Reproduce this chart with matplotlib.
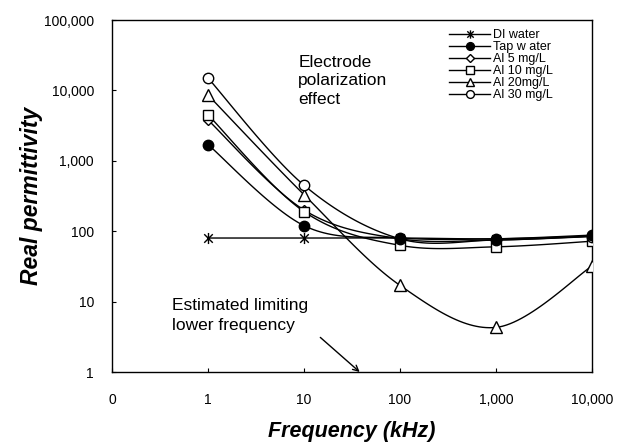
import matplotlib
matplotlib.use("Agg")
import matplotlib.pyplot as plt
import numpy as np
from matplotlib.path import Path

plt.rcParams["font.family"] = ["Liberation Sans", "DejaVu Sans"]

# categorical frequency axis (kHz)
tick_labels = ["0", "1", "10", "100", "1,000", "10,000"]
freq_pos = [1, 2, 3, 4, 5]

di_water = [80, 80, 80, 78, 85]
tap_water = [1700, 120, 80, 78, 88]
al_5 = [3800, 200, 78, 75, 85]
al_10 = [4500, 190, 63, 60, 72]
al_20 = [8600, 330, 17, 4.3, 32]
al_30 = [15000, 450, 78, 75, 84]

y_ticks = [1, 10, 100, 1000, 10000, 100000]


def smooth(xs, ys, n=30):
    """Catmull-Rom curve through the points (log y), like Excel smoothed lines"""
    x = np.asarray(xs, float)
    y = np.log10(np.asarray(ys, float))
    px = np.concatenate([[x[0]], x, [x[-1]]])
    py = np.concatenate([[y[0]], y, [y[-1]]])
    out_x, out_y = [], []
    t = np.linspace(0, 1, n)
    for i in range(1, len(px) - 2):
        p0, p1, p2, p3 = (np.array([px[k], py[k]]) for k in (i - 1, i, i + 1, i + 2))
        b1 = p1 + (p2 - p0) / 6
        b2 = p2 - (p3 - p1) / 6
        pts = (
            ((1 - t) ** 3)[:, None] * p1
            + (3 * (1 - t) ** 2 * t)[:, None] * b1
            + (3 * (1 - t) * t ** 2)[:, None] * b2
            + (t ** 3)[:, None] * p2
        )
        out_x.extend(pts[:, 0])
        out_y.extend(pts[:, 1])
    return np.array(out_x), 10 ** np.array(out_y)


# Excel-style star: an x with a vertical stroke
star = Path(
    [(-1, -1), (1, 1), (-1, 1), (1, -1), (0, -1.3), (0, 1.3)],
    [Path.MOVETO, Path.LINETO, Path.MOVETO, Path.LINETO, Path.MOVETO, Path.LINETO],
)

# label, values, marker, face, size, marker layer
series = [
    ("DI water", di_water, star, "k", 8, 5),
    ("Tap w ater", tap_water, "o", "k", 7.5, 6),
    ("Al 5 mg/L", al_5, "D", "white", 5.5, 3),
    ("Al 10 mg/L", al_10, "s", "white", 7, 3),
    ("Al 20mg/L", al_20, "^", "white", 8.5, 3),
    ("Al 30 mg/L", al_30, "o", "white", 7.5, 3),
]

fig = plt.figure(figsize=(6.3, 4.45), dpi=100)
ax = fig.add_axes([112 / 630, 73 / 445, 480 / 630, 352 / 445])

handles = []
for label, vals, marker, face, size, layer in series:
    sx, sy = smooth(freq_pos, vals)
    ax.plot(sx, sy, color="black", lw=1.0, zorder=2)
    ax.plot(
        freq_pos, vals, linestyle="none", marker=marker, markersize=size,
        markerfacecolor=face, markeredgecolor="black", markeredgewidth=1.0, zorder=layer,
    )
    (h,) = ax.plot(
        [], [], color="black", lw=1.0, marker=marker, markersize=size * 0.75,
        markerfacecolor=face, markeredgecolor="black", label=label,
    )
    handles.append(h)

ax.set_yscale("log")
ax.set_ylim(1, 100000)
ax.set_xlim(0, 5)
ax.set_yticks(y_ticks)
ax.set_yticklabels([f"{v:,}" for v in y_ticks])
ax.yaxis.set_minor_locator(matplotlib.ticker.NullLocator())
ax.set_xticks(range(len(tick_labels)))
ax.set_xticklabels(tick_labels)
ax.tick_params(axis="both", direction="in", length=3, labelsize=10, pad=13)
ax.tick_params(axis="x", pad=15)
for s in ax.spines.values():
    s.set_linewidth(1.0)

ax.set_xlabel("Frequency (kHz)", fontsize=15.5, fontweight="bold", fontstyle="italic", labelpad=10)
ax.set_ylabel("Real permittivity", fontsize=16.5, fontweight="bold", fontstyle="italic")
ax.yaxis.set_label_coords(-0.144, 0.5)

ax.text(1.94, 32000, "Electrode\npolarization\neffect", fontsize=12.5, va="top", ha="left",
        linespacing=1.3)
ax.text(0.63, 6.3, "Estimated limiting\nlower frequency", fontsize=12.5, va="center", ha="left",
        linespacing=1.4)
ax.annotate(
    "", xy=(2.58, 1), xytext=(2.17, 3.1),
    arrowprops=dict(arrowstyle="->", color="black", lw=1.0, shrinkA=0, shrinkB=0),
)

ax.legend(
    handles=handles, loc="upper left", bbox_to_anchor=(449 / 630, 1 - 29 / 445),
    bbox_transform=fig.transFigure, frameon=False, fontsize=9, handlelength=3.3,
    handletextpad=0.25, labelspacing=0.0, borderpad=0, borderaxespad=0,
)

fig.savefig("out.png", dpi=100)
